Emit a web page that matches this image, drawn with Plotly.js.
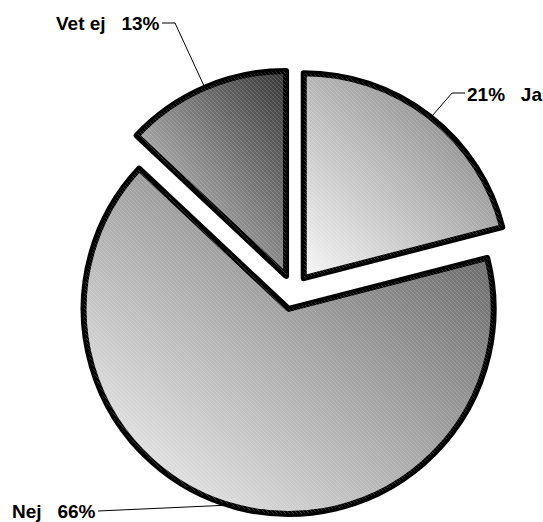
<!DOCTYPE html>
<html>
<head>
<meta charset="utf-8">
<script src="https://cdn.plot.ly/plotly-3.0.1.min.js"></script>
<style>
  html, body { margin: 0; padding: 0; background: #fff; }
  #chart { width: 543px; height: 522px; }
</style>
</head>
<body>
<div id="chart"></div>
<script>
// ---- data ----
const categories = ["Ja", "Nej", "Vet ej"];
const shares = [21, 66, 13];
const labelTexts = ["21%\u00A0\u00A0\u00A0Ja", "Nej\u00A0\u00A0\u00A066%", "Vet ej\u00A0\u00A0\u00A013%"];

// ---- styles ----
const W = 543, H = 522;
const gradStops = [
  ["#f7f7f7", "#747474"],
  ["#f9f9f9", "#555555"],
  ["#dcdcdc", "#363636"]
];
const baseColors = ["#bbbbbb", "#aaaaaa", "#888888"];

function px(x) { return x / W; }
function py(y) { return 1 - y / H; }

const trace = {
  type: "pie",
  labels: categories,
  values: shares,
  sort: false,
  direction: "clockwise",
  rotation: 0,
  pull: [0.0854, 0.0854, 0.0854],
  textinfo: "none",
  hoverinfo: "label+percent",
  marker: { colors: baseColors, line: { color: "#000000", width: 6 } },
  domain: { x: [0.1298, 0.9494], y: [0.0144, 0.8669] },
  showlegend: false
};

const font = { family: "Liberation Sans, Arial, sans-serif", size: 19, color: "#000", weight: "bold" };

const annotations = [
  { text: labelTexts[0], x: px(466), y: py(95), xanchor: "left", yanchor: "middle" },
  { text: labelTexts[1], x: px(97), y: py(511), xanchor: "right", yanchor: "middle" },
  { text: labelTexts[2], x: px(161), y: py(23), xanchor: "right", yanchor: "middle" }
].map(a => Object.assign({ xref: "paper", yref: "paper", showarrow: false, font: font, borderpad: 0 }, a));

function seg(x0, y0, x1, y1) {
  return { type: "line", xref: "paper", yref: "paper", x0: px(x0), y0: py(y0), x1: px(x1), y1: py(y1),
           line: { color: "#000", width: 1 } };
}
const shapes = [
  seg(175, 23, 162, 23), seg(175, 23, 205, 88),
  seg(452, 93, 465, 93), seg(452, 93, 432, 116),
  seg(98, 511, 231, 505)
];

const layout = {
  width: W, height: H,
  margin: { l: 0, r: 0, t: 0, b: 0, pad: 0 },
  paper_bgcolor: "#ffffff",
  plot_bgcolor: "#ffffff",
  annotations: annotations,
  shapes: shapes,
  showlegend: false
};

Plotly.newPlot("chart", [trace], layout, { displayModeBar: false, staticPlot: true }).then(function () {
  const svg = document.querySelector("#chart .main-svg");
  const ns = "http://www.w3.org/2000/svg";
  let defs = svg.querySelector("defs");
  if (!defs) { defs = document.createElementNS(ns, "defs"); svg.insertBefore(defs, svg.firstChild); }
  gradStops.forEach(function (st, i) {
    const g = document.createElementNS(ns, "linearGradient");
    g.setAttribute("id", "sliceGrad" + i);
    g.setAttribute("x1", "0"); g.setAttribute("y1", "1");
    g.setAttribute("x2", "1"); g.setAttribute("y2", "0");
    [[0, st[0]], [1, st[1]]].forEach(function (s) {
      const stop = document.createElementNS(ns, "stop");
      stop.setAttribute("offset", s[0]);
      stop.setAttribute("stop-color", s[1]);
      g.appendChild(stop);
    });
    defs.appendChild(g);
  });
  // faint diagonal hatch texture
  const pat = document.createElementNS(ns, "pattern");
  pat.setAttribute("id", "sliceHatch");
  pat.setAttribute("patternUnits", "userSpaceOnUse");
  pat.setAttribute("width", "4"); pat.setAttribute("height", "4");
  const pl = document.createElementNS(ns, "path");
  pl.setAttribute("d", "M-1,-1 L5,5 M-1,3 L1,5 M3,-1 L5,1");
  pl.setAttribute("stroke", "#ffffff");
  pl.setAttribute("stroke-opacity", "0.18");
  pl.setAttribute("stroke-width", "1");
  pat.appendChild(pl);
  defs.appendChild(pat);

  const paths = document.querySelectorAll("#chart .pielayer .slice path.surface");
  paths.forEach(function (p, i) {
    p.style.fill = "url(#sliceGrad" + i + ")";
    p.style.strokeLinejoin = "round";
    const c = p.cloneNode(false);
    c.style.fill = "url(#sliceHatch)";
    c.style.stroke = "none";
    c.removeAttribute("class");
    p.parentNode.insertBefore(c, p.nextSibling);
  });
});
</script>
</body>
</html>
